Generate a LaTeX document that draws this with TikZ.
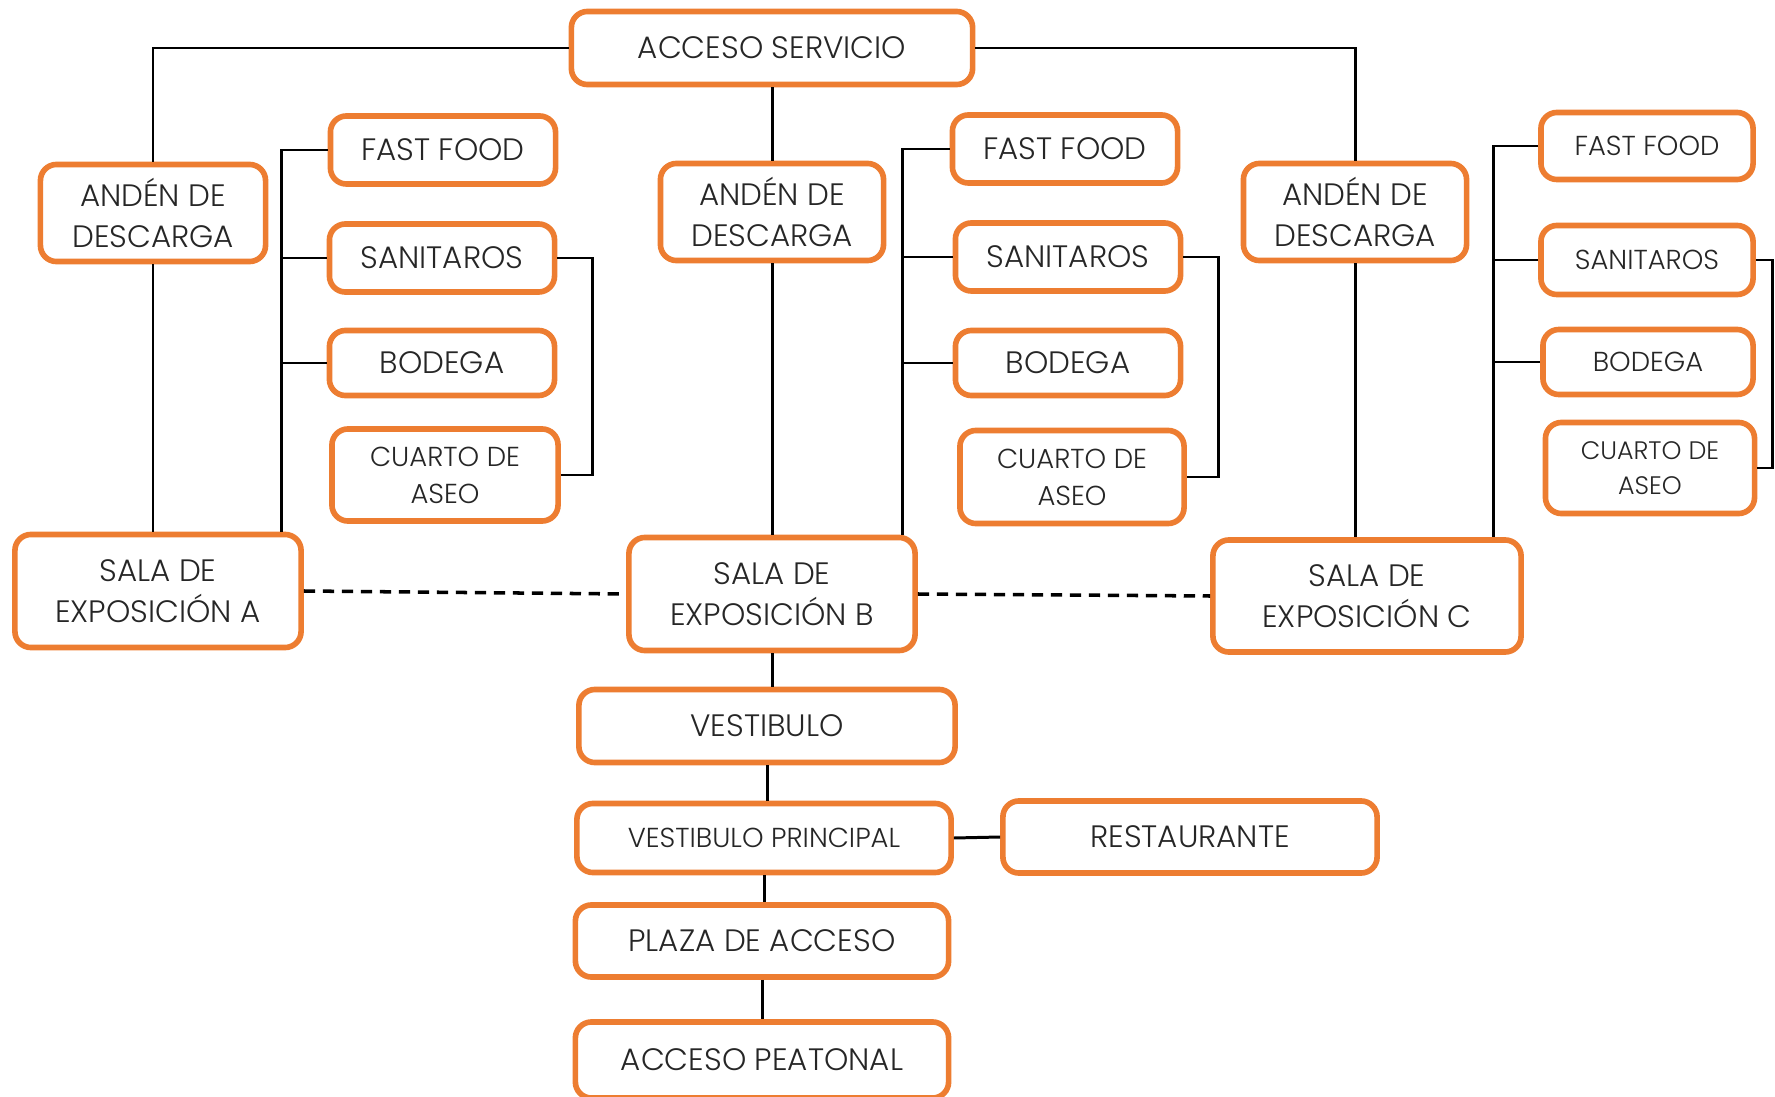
\documentclass[tikz,border=0pt]{standalone}
\usepackage{fontspec}
\setmainfont{Poppins Light}
\usepackage{tikz}
\definecolor{boxorange}{HTML}{ED7D31}
\definecolor{txtgray}{HTML}{262626}
\tikzset{
  box/.style={draw=boxorange, line width=1.6pt, rounded corners=1.6mm, fill=white,
    align=center, inner sep=0pt, text=txtgray, font=\fontsize{8.8}{11.5}\selectfont},
  smallbox/.style={box, font=\fontsize{7.8}{10.5}\selectfont},
  link/.style={line width=0.85pt, black},
  sala/.style={line width=1pt, black, dash pattern=on 3.2pt off 2.2pt},
}

\begin{document}
\begin{tikzpicture}[x=0.01cm, y=-0.01cm]
            \useasboundingbox (0,0) rectangle (1775,1097);

            % Acceso de servicio y andenes
            \node[box, minimum width=4.01cm, minimum height=0.73cm] (servicio) at (772,48) {ACCESO SERVICIO};
            \node[box, minimum width=2.25cm, minimum height=0.97cm] (andenA) at (153,213) {ANDÉN DE\\DESCARGA};
            \node[box, minimum width=2.23cm, minimum height=0.97cm] (andenB) at (772,212) {ANDÉN DE\\DESCARGA};
            \node[box, minimum width=2.23cm, minimum height=0.97cm] (andenC) at (1355,212) {ANDÉN DE\\DESCARGA};

            % Servicios sala A
            \node[box, minimum width=2.25cm, minimum height=0.68cm] (ffA) at (443,150) {FAST FOOD};
            \node[box, minimum width=2.25cm, minimum height=0.68cm] (sanA) at (442,258) {SANITAROS};
            \node[box, minimum width=2.25cm, minimum height=0.65cm] (bodA) at (442,363) {BODEGA};
            \node[smallbox, minimum width=2.26cm, minimum height=0.92cm] (cuaA) at (445,475) {CUARTO DE\\ASEO};

            % Servicios sala B
            \node[box, minimum width=2.25cm, minimum height=0.68cm] (ffB) at (1065,149) {FAST FOOD};
            \node[box, minimum width=2.25cm, minimum height=0.68cm] (sanB) at (1068,257) {SANITAROS};
            \node[box, minimum width=2.25cm, minimum height=0.65cm] (bodB) at (1068,363) {BODEGA};
            \node[smallbox, minimum width=2.24cm, minimum height=0.93cm] (cuaB) at (1072,477) {CUARTO DE\\ASEO};

            % Servicios sala C
            \node[smallbox, minimum width=2.12cm, minimum height=0.67cm] (ffC) at (1647,146) {FAST FOOD};
            \node[smallbox, minimum width=2.12cm, minimum height=0.69cm] (sanC) at (1647,260) {SANITAROS};
            \node[smallbox, minimum width=2.10cm, minimum height=0.65cm] (bodC) at (1648,362) {BODEGA};
            \node[box, font=\fontsize{7.2}{10}\selectfont, minimum width=2.09cm, minimum height=0.91cm] (cuaC) at (1650,468) {CUARTO DE\\ASEO};

            % Salas de exposicion
            \node[box, minimum width=2.86cm, minimum height=1.13cm] (salaA) at (158,591) {SALA DE\\EXPOSICIÓN A};
            \node[box, minimum width=2.86cm, minimum height=1.13cm] (salaB) at (772,594) {SALA DE\\EXPOSICIÓN B};
            \node[box, minimum width=3.08cm, minimum height=1.12cm] (salaC) at (1367,596) {SALA DE\\EXPOSICIÓN C};

            % Acceso peatonal
            \node[box, minimum width=3.76cm, minimum height=0.73cm] (vest) at (767,726) {VESTIBULO};
            \node[smallbox, minimum width=3.74cm, minimum height=0.69cm] (vp) at (764,838) {VESTIBULO PRINCIPAL};
            \node[box, minimum width=3.74cm, minimum height=0.72cm] (rest) at (1190,837) {RESTAURANTE};
            \node[box, minimum width=3.73cm, minimum height=0.72cm] (plaza) at (762,941) {PLAZA DE ACCESO};
            \node[box, minimum width=3.73cm, minimum height=0.76cm] (peat) at (762,1060) {ACCESO PEATONAL};

            % Conexiones de servicio
            \draw[link] (servicio.west) -| (andenA.north);
            \draw[link] (servicio.east) -| (andenC.north);
            \draw[link] (servicio.south) -- (andenB.north);
            \draw[link] (andenA.south) -- (andenA.south |- salaA.north);
            \draw[link] (andenB.south) -- (andenB.south |- salaB.north);
            \draw[link] (andenC.south) -- (andenC.south |- salaC.north);

            % Llaves de servicios
            \draw[link] (ffA.west) -- ++(-46,0) coordinate (bA) -- (bA |- salaA.north);
            \draw[link] (sanA.west) -- (sanA.west -| bA);
            \draw[link] (bodA.west) -- (bodA.west -| bA);
            \draw[link] (sanA.east) -- ++(35,0) coordinate (rA) |- (cuaA.east);

            \draw[link] (ffB.west) -- ++(-47,0) coordinate (bB) -- (bB |- salaB.north);
            \draw[link] (sanB.west) -- (sanB.west -| bB);
            \draw[link] (bodB.west) -- (bodB.west -| bB);
            \draw[link] (sanB.east) -- ++(35,0) coordinate (rB) |- (cuaB.east);

            \draw[link] (ffC.west) -- ++(-45,0) coordinate (bC) -- (bC |- salaC.north);
            \draw[link] (sanC.west) -- (sanC.west -| bC);
            \draw[link] (bodC.west) -- (bodC.west -| bC);
            \draw[link] (sanC.east) -- ++(17,0) coordinate (rC) |- (cuaC.east);

            % Recorrido entre salas
            \draw[sala] (salaA.east) -- (salaB.west);
            \draw[sala] (salaB.east) -- (salaC.west);

            % Recorrido peatonal
            \draw[link] (salaB.south) -- (salaB.south |- vest.north);
            \draw[link] (vest.south) -- (vest.south |- vp.north);
            \draw[link] (vp.east) -- (rest.west);
            \draw[link] (vp.south) -- (vp.south |- plaza.north);
            \draw[link] (plaza.south) -- (plaza.south |- peat.north);
        \end{tikzpicture}
\end{document}
